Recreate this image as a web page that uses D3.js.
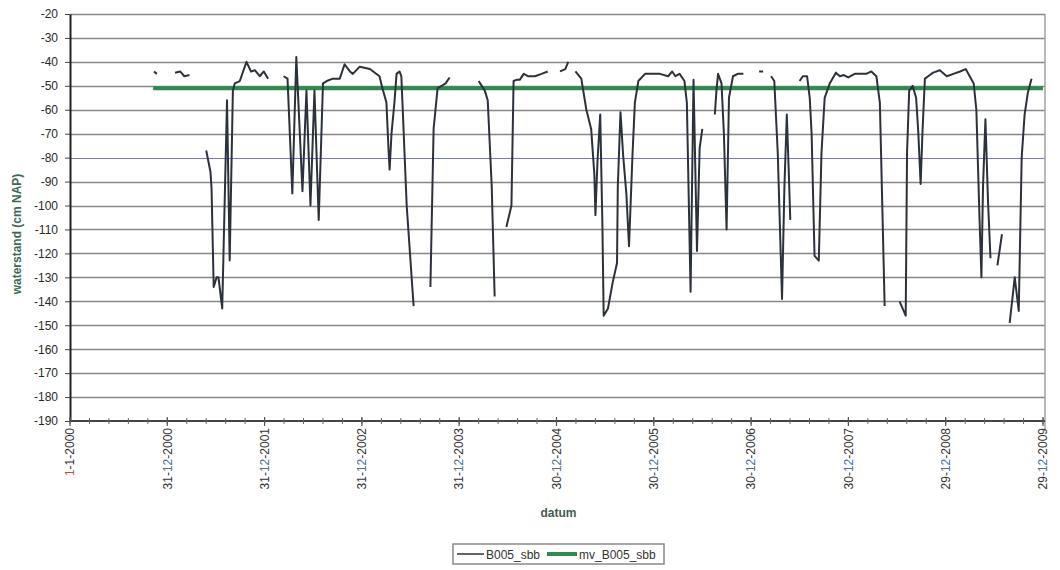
<!DOCTYPE html>
<html>
<head>
<meta charset="utf-8">
<script src="https://cdn.jsdelivr.net/npm/d3@7"></script>
<style>
  body { margin: 0; background: #fff; }
  svg { font-family: "Liberation Sans", Arial, sans-serif; }
</style>
</head>
<body>
<div class="chart"></div>
<script>
(function() {
  // meetreeks B005_sbb (null = geen meting)
  var dates = [
    "2000-11-11","2000-11-22",null,
    "2001-01-29","2001-02-17","2001-03-05","2001-03-24",null,
    "2001-05-26","2001-06-11","2001-06-15","2001-06-23","2001-07-04","2001-07-11","2001-07-25","2001-08-12",
    "2001-08-22","2001-09-03","2001-09-10","2001-09-29","2001-10-24","2001-11-10","2001-11-25","2001-12-13",
    "2001-12-28","2002-01-13",null,
    "2002-03-12","2002-03-27","2002-04-14","2002-04-29","2002-05-22","2002-06-06","2002-06-21","2002-07-06",
    "2002-07-22","2002-08-07","2002-08-21","2002-09-13","2002-10-09","2002-10-27","2002-11-16","2002-11-27",
    "2002-12-23","2003-01-30","2003-03-07","2003-03-18","2003-04-02","2003-04-10","2003-04-14","2003-04-21",
    "2003-05-02","2003-05-10","2003-05-21","2003-05-28","2003-06-17","2003-07-13",null,
    "2003-09-14","2003-09-26","2003-10-11","2003-10-26","2003-11-10","2003-11-25",null,
    "2004-03-13","2004-04-05","2004-04-16","2004-05-01","2004-05-12",null,
    "2004-06-25","2004-07-14","2004-07-22","2004-08-02","2004-08-14","2004-08-29","2004-09-14","2004-10-10",
    "2004-11-04","2004-11-27",null,
    "2005-01-12","2005-02-01","2005-02-12",null,
    "2005-03-11","2005-04-02","2005-04-21","2005-05-09","2005-05-21","2005-05-25","2005-06-02","2005-06-12",
    "2005-06-20","2005-06-25","2005-07-11","2005-07-29","2005-08-14","2005-08-17","2005-08-27","2005-09-06",
    "2005-09-18","2005-09-28","2005-10-11","2005-10-20","2005-11-02","2005-11-27","2005-12-23","2006-01-22",
    "2006-02-22","2006-03-09","2006-03-21","2006-04-06","2006-04-24","2006-05-03","2006-05-17","2006-05-28",
    "2006-06-10","2006-06-20","2006-06-30",null,
    "2006-08-16","2006-08-22","2006-08-28","2006-09-10","2006-09-19","2006-09-29","2006-10-08","2006-10-23",
    "2006-11-10","2006-12-01",null,
    "2007-01-29","2007-02-13",null,
    "2007-03-15","2007-03-27","2007-04-09","2007-04-25","2007-05-04","2007-05-13","2007-05-20","2007-05-26",null,
    "2007-06-30","2007-07-12","2007-07-28","2007-08-07","2007-08-14","2007-08-25","2007-09-10","2007-09-20",
    "2007-10-02","2007-10-21","2007-11-13","2007-11-28","2007-12-13","2007-12-29","2008-01-23","2008-02-15",
    "2008-03-06","2008-03-25","2008-04-13","2008-04-26","2008-05-14",null,
    "2008-07-09","2008-08-01","2008-08-06","2008-08-14","2008-08-27","2008-09-09","2008-09-17","2008-09-26",
    "2008-10-03","2008-10-12","2008-10-24","2008-11-12","2008-12-07","2009-01-02","2009-01-27","2009-02-21",
    "2009-03-14","2009-03-29","2009-04-13","2009-04-23","2009-05-05","2009-05-12","2009-05-18","2009-05-27",
    "2009-06-06","2009-06-15",null,
    "2009-07-11","2009-07-28",null,
    "2009-08-26","2009-09-14","2009-09-29","2009-10-10","2009-10-21","2009-11-02","2009-11-16"
  ];
  var waterstand = [
    -44,-45,null,
    -44.5,-44,-46,-45.5,null,
    -77,-86,-93,-134,-130,-130,-143,-56,
    -123,-52,-49,-48,-40,-44,-43.5,-46,
    -44,-47,null,
    -46,-47,-95,-38,-94,-52,-100,-52,
    -106,-49,-48,-47,-47,-41,-44,-45,
    -42,-43,-46,-51,-57,-77,-85,-70,
    -57,-45,-44,-46,-100,-142,null,
    -134,-68,-51,-50,-49,-46.5,null,
    -48,-52,-56,-92,-138,null,
    -109,-100,-48,-47.5,-47.5,-45,-46,-46,
    -45,-44,null,
    -44,-43,-40,null,
    -44,-47,-60,-68,-87,-104,-81,-62,
    -107,-146,-143,-132,-124,-92,-61,-79,
    -95,-117,-79,-57,-48,-45,-45,-45,
    -46,-44,-46,-45,-48,-57,-136,-47.5,
    -119,-76,-68,null,
    -62,-52,-45,-49,-70,-110,-55,-46,
    -45,-45,null,
    -44,-44,null,
    -46,-48,-78,-139,-92,-62,-85,-106,null,
    -48,-46,-46,-55,-70,-121,-123,-78,
    -55,-49,-44.5,-46,-45.5,-46.5,-45,-45,
    -45,-44,-46,-57,-142,null,
    -140,-146,-78,-52,-50,-55,-69,-91,
    -69,-47,-46,-44.5,-43.5,-46,-45,-44,
    -43,-46,-49,-60,-106,-130,-92,-64,
    -99,-122,null,
    -125,-112,null,
    -149,-130,-144,-80,-62,-53,-47
  ];
  // gemiddelde (mv_B005_sbb)
  var mvDates = ["2000-11-08","2009-12-29"];
  var mvValues = [-51,-51];
  var yTicks = d3.range(-190, -19, 10);
  var seriesNames = ["B005_sbb","mv_B005_sbb"];

  var width = 1060, height = 570,
    plot = { left: 70, right: 1043, top: 14, bottom: 421 };

  var parse = d3.timeParse("%Y-%m-%d");
  var start = parse("2000-01-01");
  var xMajor = d3.range(0, 11).map(function(i) { return d3.timeDay.offset(start, 365 * i); });
  var xMinor = d3.range(0, 51).map(function(i) { return d3.timeDay.offset(start, 73 * i); });

  var x = d3.scaleTime().domain([start, xMajor[10]]).range([plot.left, plot.right]);
  var y = d3.scaleLinear().domain([-190, -20]).range([plot.bottom, plot.top]);

  var svg = d3.select(".chart").append("svg")
    .attr("width", width).attr("height", height);

  // grid
  svg.append("g").selectAll("line")
    .data(yTicks.filter(function(d) { return d !== -190; })).enter()
    .append("line")
      .attr("x1", plot.left).attr("x2", plot.right + 2)
      .attr("y1", function(d) { return Math.round(y(d)) + 0.5; })
      .attr("y2", function(d) { return Math.round(y(d)) + 0.5; })
      .attr("stroke", function(d) { return d === -80 ? "#7474dc" : "#878787"; })
      .attr("stroke-width", function(d) { return d === -80 ? 1 : 1.4; });

  svg.append("line")
    .attr("x1", plot.right + 2).attr("x2", plot.right + 2)
    .attr("y1", plot.top).attr("y2", plot.bottom + 10)
    .attr("stroke", "#a0a0a0").attr("stroke-width", 1.5);

  // y axis
  var yAxis = svg.append("g")
    .attr("transform", "translate(" + plot.left + ",0)")
    .call(d3.axisLeft(y).tickValues(yTicks).tickFormat(function(d) { return String(d); })
      .tickSize(5).tickSizeOuter(0).tickPadding(7));
  yAxis.select(".domain").attr("stroke", "#222").attr("stroke-width", 2);
  yAxis.selectAll(".tick line").attr("stroke", "#444");
  yAxis.selectAll("text").attr("font-size", 12).attr("fill", "#2a2a2a")
    .attr("font-family", "'Liberation Sans', Arial, sans-serif");

  // x axis
  var xg = svg.append("g");
  xg.append("line")
    .attr("x1", plot.left).attr("x2", plot.right + 2)
    .attr("y1", plot.bottom).attr("y2", plot.bottom)
    .attr("stroke", "#444").attr("stroke-width", 2);
  xg.selectAll(".minor").data(xMinor).enter().append("line")
    .attr("class", "minor")
    .attr("x1", function(d) { return x(d); }).attr("x2", function(d) { return x(d); })
    .attr("y1", plot.bottom - 3).attr("y2", plot.bottom + 3)
    .attr("stroke", "#666").attr("stroke-width", 1);
  xg.selectAll(".major").data(xMajor).enter().append("line")
    .attr("class", "major")
    .attr("x1", function(d) { return x(d); }).attr("x2", function(d) { return x(d); })
    .attr("y1", plot.bottom - 4).attr("y2", plot.bottom + 5)
    .attr("stroke", "#555").attr("stroke-width", 1.2);

  var fmtD = d3.timeFormat("%-d"), fmtM = d3.timeFormat("%-m"), fmtY = d3.timeFormat("%Y");
  var lbl = xg.selectAll(".lbl").data(xMajor).enter().append("text")
    .attr("class", "lbl")
    .attr("transform", function(d) { return "translate(" + x(d) + "," + (plot.bottom + 7) + ") rotate(-90)"; })
    .attr("text-anchor", "end")
    .attr("dy", "0.35em")
    .attr("font-size", 12)
    .attr("fill", "#333");
  lbl.append("tspan").text(function(d) { return fmtD(d); })
    .attr("fill", function(d, i) { return i === 0 ? "#b5504a" : "#333"; });
  lbl.append("tspan").text("-");
  lbl.append("tspan").text(function(d) { return fmtM(d); })
    .attr("fill", function(d, i) { return i === 0 ? "#333" : "#4a6f96"; });
  lbl.append("tspan").text(function(d) { return "-" + fmtY(d); });

  // titles
  svg.append("text")
    .attr("transform", "translate(21,234) rotate(-90)")
    .attr("text-anchor", "middle")
    .attr("font-size", 12).attr("font-weight", "bold").attr("fill", "#3d6a58")
    .text("waterstand (cm NAP)");
  svg.append("text")
    .attr("x", (plot.left + plot.right) / 2 + 2).attr("y", 517)
    .attr("text-anchor", "middle")
    .attr("font-size", 12).attr("font-weight", "bold").attr("fill", "#3f5c52")
    .text("datum");

  // series
  var meas = dates.map(function(d, i) { return { date: d ? parse(d) : null, v: waterstand[i] }; });
  var mv = mvDates.map(function(d, i) { return { date: parse(d), v: mvValues[i] }; });

  var line = d3.line()
    .defined(function(d) { return d.v !== null && d.date !== null; })
    .x(function(d) { return x(d.date); })
    .y(function(d) { return y(d.v); });

  svg.append("path").datum(mv)
    .attr("d", line)
    .attr("fill", "none").attr("stroke", "#2f8a4e").attr("stroke-width", 4);

  svg.append("path").datum(meas)
    .attr("d", line)
    .attr("fill", "none").attr("stroke", "#2c323b").attr("stroke-width", 2)
    .attr("stroke-linejoin", "round");

  // legend
  var lg = svg.append("g").attr("transform", "translate(453,544)");
  lg.append("rect").attr("x", 0).attr("y", 0).attr("width", 211).attr("height", 20)
    .attr("fill", "#fff").attr("stroke", "#8a8a8a").attr("stroke-width", 1.5);
  lg.append("line").attr("x1", 4).attr("x2", 31).attr("y1", 10).attr("y2", 10)
    .attr("stroke", "#2c323b").attr("stroke-width", 1.5);
  lg.append("text").attr("x", 33).attr("y", 14.5).attr("font-size", 12).attr("fill", "#333")
    .text(seriesNames[0]);
  lg.append("line").attr("x1", 94).attr("x2", 124).attr("y1", 10).attr("y2", 10)
    .attr("stroke", "#2f8a4e").attr("stroke-width", 4);
  lg.append("text").attr("x", 126).attr("y", 14.5).attr("font-size", 12).attr("fill", "#333")
    .text(seriesNames[1]);
})();
</script>
</body>
</html>
